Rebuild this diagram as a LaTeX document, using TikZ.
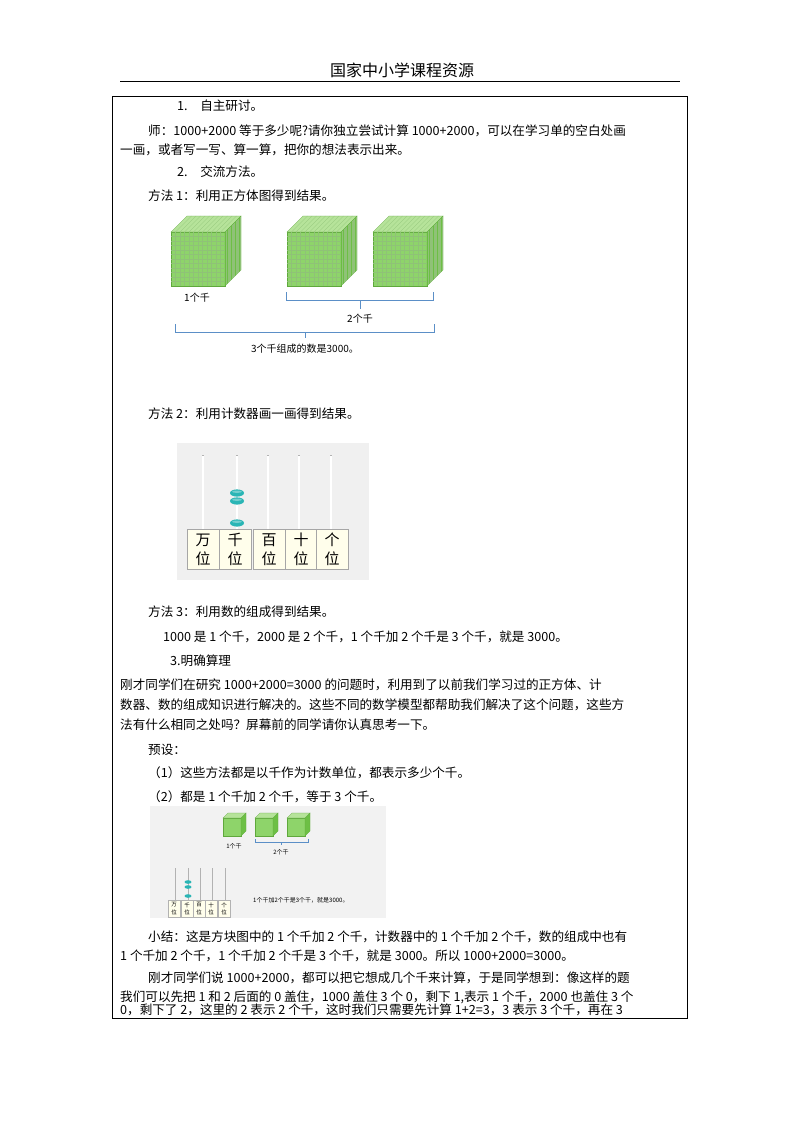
\documentclass[tikz,border=0pt]{standalone}
\usepackage{fontspec}
\setmainfont{Noto Sans CJK SC}
\usetikzlibrary{calc}
\definecolor{cgF}{HTML}{8ED46A}
\definecolor{cgT}{HTML}{B6E39A}
\definecolor{cgS}{HTML}{6DBF45}
\definecolor{cgL}{HTML}{5FA83C}
\definecolor{brc}{HTML}{5B8FC7}
\definecolor{bead}{HTML}{2AB5B5}
\tikzset{
 x=1pt,y=-1pt,
 txt/.style={anchor=west,inner sep=0pt,font=\fontsize{12.6}{14}\selectfont},
 lbl/.style={inner sep=0pt,font=\fontsize{10}{12}\selectfont},
 brace/.style={draw=brc,line width=1pt},
 pics/cube/.style n args={3}{code={
  \fill[cgF,draw=cgL,line width=.3pt] (0,0) rectangle (#1,#1);
  \fill[cgT,draw=cgL,line width=.3pt] (0,0)--(#2,-#2)--(#1+#2,-#2)--(#1,0)--cycle;
  \fill[cgS,draw=cgL,line width=.3pt] (#1,0)--(#1+#2,-#2)--(#1+#2,#1-#2)--(#1,#1)--cycle;
  \ifnum#3>0
  \foreach \i in {1,...,#3}{
   \draw[cgL!70,line width=.25pt] ({#1*\i/(#3+1)},0)--({#1*\i/(#3+1)},#1);
   \draw[cgL!70,line width=.25pt] (0,{#1*\i/(#3+1)})--(#1,{#1*\i/(#3+1)});
   \draw[cgL!70,line width=.25pt] ({#1*\i/(#3+1)},0)--({#1*\i/(#3+1)+#2},-#2);
   \draw[cgL!70,line width=.25pt] ({#1+#2*\i/(#3+1)},{-#2*\i/(#3+1)})--({#1+#2*\i/(#3+1)},{#1-#2*\i/(#3+1)});
  }\fi}}
}
\begin{document}
\begin{tikzpicture}
\useasboundingbox[fill=white] (0,0) rectangle (800,1132);
\node[inner sep=0pt,font=\fontsize{16}{18}\selectfont] (hdr) at (402,70) {国家中小学课程资源};
\draw[line width=1pt] (120,81)--(680,81);
\draw[line width=.6pt] (112,96) rectangle (687,1018);
\node[txt] (t1) at (177,106) {1.\quad 自主研讨。};
\node[txt] (t2) at (148,131) {师：1000+2000 等于多少呢?请你独立尝试计算 1000+2000，可以在学习单的空白处画};
\node[txt] (t3) at (120,150) {一画，或者写一写、算一算，把你的想法表示出来。};
\node[txt] (t4) at (177,172) {2.\quad 交流方法。};
\node[txt] (t5) at (148,196) {方法 1：利用正方体图得到结果。};
\pic at (171,232) {cube={54}{16}{11}};
\pic at (287,232) {cube={54}{16}{11}};
\pic at (373,232) {cube={54}{16}{11}};
\node[lbl] (c1) at (197,298) {1个千};
\draw[brace] (286,292)--(286,300)--(433,300)--(433,292) (360,300)--(360,309);
\node[lbl] (c2) at (360,319) {2个千};
\draw[brace] (175,324)--(175,332)--(434,332)--(434,324) (305,332)--(305,338);
\node[lbl] (c3) at (305,349) {3个千组成的数是3000。};
\node[txt] (t6) at (148,414) {方法 2：利用计数器画一画得到结果。};
\fill[gray!12] (177,443) rectangle (369,580);
\foreach \x in {203,237,268,299,331}{
 \draw[gray!60,line width=2.2pt] (\x,455)--(\x,529);
 \draw[white,line width=1.1pt] (\x,456)--(\x,529);}
\foreach \yy in {493,501,523}{
 \fill[bead] (237,\yy) ellipse (7 and 3.6);
 \fill[white,opacity=.35] (237,\yy-1.3) ellipse (5 and 1.2);}
\foreach \x/\c [count=\k] in {187/万,219/千,253/百,285/十,316/个}{
 \draw[fill=yellow!8,draw=gray!70] (\x,529) rectangle ++(32,40);
 \node[inner sep=0pt,font=\fontsize{15}{16}\selectfont] (ab\k) at (\x+16,540) {\c};
 \node[inner sep=0pt,font=\fontsize{15}{16}\selectfont] (ac\k) at (\x+16,559) {位};}
\node[txt] (t7) at (148,612) {方法 3：利用数的组成得到结果。};
\node[txt] (t8) at (163,637) {1000 是 1 个千，2000 是 2 个千，1 个千加 2 个千是 3 个千，就是 3000。};
\node[txt] (t9) at (170,661) {3.明确算理};
\node[txt] (t10) at (120,685) {刚才同学们在研究 1000+2000=3000 的问题时，利用到了以前我们学习过的正方体、计};
\node[txt] (t11) at (120,705) {数器、数的组成知识进行解决的。这些不同的数学模型都帮助我们解决了这个问题，这些方};
\node[txt] (t12) at (120,725) {法有什么相同之处吗？屏幕前的同学请你认真思考一下。};
\node[txt] (t13) at (148,750) {预设：};
\node[txt] (t14) at (148,773) {（1）这些方法都是以千作为计数单位，都表示多少个千。};
\node[txt] (t15) at (148,797) {（2）都是 1 个千加 2 个千，等于 3 个千。};
\fill[gray!10] (150,806) rectangle (386,918);
\pic at (223,818) {cube={18}{5}{0}};
\pic at (255,818) {cube={18}{5}{0}};
\pic at (287,818) {cube={18}{5}{0}};
\node[inner sep=0pt,font=\fontsize{6}{7}\selectfont] (s1) at (234,846) {1个千};
\draw[brc,line width=.6pt] (255,839)--(255,842)--(308,842)--(308,839) (281,842)--(281,845);
\node[inner sep=0pt,font=\fontsize{6}{7}\selectfont] (s2) at (281,852) {2个千};
\foreach \x in {175,188,200,212,225}{\draw[gray!60,line width=.8pt] (\x,868)--(\x,900);}
\foreach \yy in {882,887,896}{\fill[bead] (188,\yy) ellipse (3.5 and 1.8);}
\foreach \x/\c [count=\k] in {168/万,181/千,193/百,205/十,218/个}{
 \draw[fill=yellow!8,draw=gray!60,line width=.3pt] (\x,900) rectangle ++(12.4,17);
 \node[inner sep=0pt,font=\fontsize{5.5}{6}\selectfont] (sa\k) at (\x+6.2,905) {\c};
 \node[inner sep=0pt,font=\fontsize{5.5}{6}\selectfont] (sb\k) at (\x+6.2,912) {位};}
\node[inner sep=0pt,anchor=west,font=\fontsize{6}{7}\selectfont] (s3) at (253,900) {1个千加2个千是3个千，就是3000。};
\node[txt] (t16) at (148,937) {小结：这是方块图中的 1 个千加 2 个千，计数器中的 1 个千加 2 个千，数的组成中也有};
\node[txt] (t17) at (120,956) {1 个千加 2 个千，1 个千加 2 个千是 3 个千，就是 3000。所以 1000+2000=3000。};
\node[txt] (t18) at (148,978) {刚才同学们说 1000+2000，都可以把它想成几个千来计算，于是同学想到：像这样的题};
\node[txt] (t19) at (120,997) {我们可以先把 1 和 2 后面的 0 盖住，1000 盖住 3 个 0，剩下 1,表示 1 个千，2000 也盖住 3 个};
\node[txt] (t20) at (120,1010) {0，剩下了 2，这里的 2 表示 2 个千，这时我们只需要先计算 1+2=3，3 表示 3 个千，再在 3};
\end{tikzpicture}
\end{document}
